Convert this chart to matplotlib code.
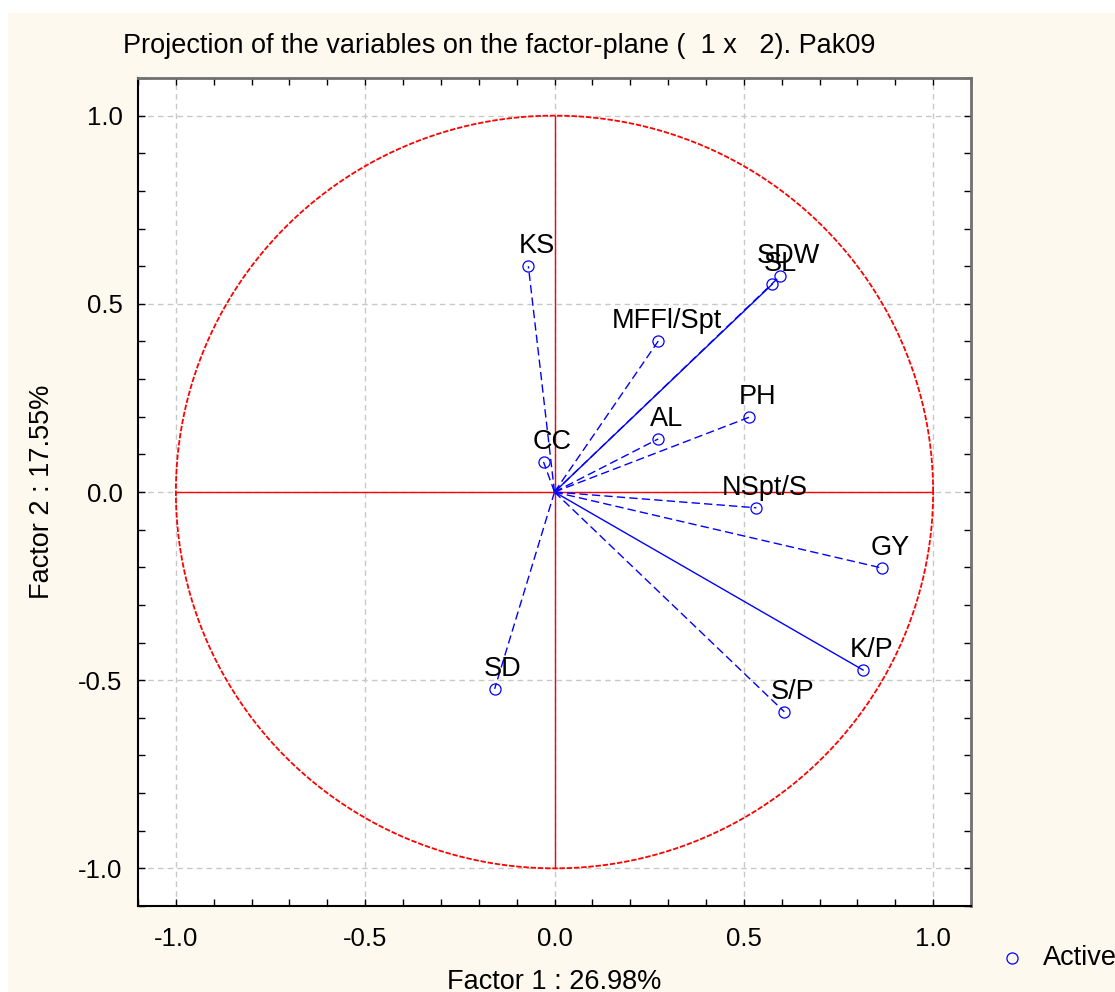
import matplotlib
matplotlib.use("Agg")
import matplotlib.pyplot as plt
import numpy as np
from matplotlib.patches import Rectangle
from matplotlib.lines import Line2D
from matplotlib.ticker import MultipleLocator

plt.rcParams['font.family'] = ['Liberation Sans', 'DejaVu Sans']

# factor loadings
variables = ['KS', 'SDW', 'SL', 'MFFl/Spt', 'PH', 'AL', 'CC',
             'NSpt/S', 'GY', 'K/P', 'S/P', 'SD']
factor1 = [-0.069, 0.596, 0.575, 0.274, 0.515, 0.274, -0.029,
           0.533, 0.865, 0.815, 0.607, -0.158]
factor2 = [0.600, 0.574, 0.552, 0.401, 0.199, 0.141, 0.080,
           -0.042, -0.202, -0.473, -0.584, -0.523]
solid_vars = ['SL', 'K/P']

cream = '#fef9ee'

fig = plt.figure(figsize=(11.15, 9.92), dpi=100, facecolor='white')
fig.patches.append(Rectangle((8 / 1115, 0), 1, 1 - 13 / 992, transform=fig.transFigure,
                             facecolor=cream, edgecolor='none', zorder=-10))

ax = fig.add_axes([138 / 1115, 1 - 906 / 992, (971 - 138) / 1115, (906 - 78) / 992])
ax.set_facecolor('white')
ax.set_xlim(-1.1, 1.1)
ax.set_ylim(-1.1, 1.1)

# unit circle and crosshair
t = np.linspace(0, 2 * np.pi, 720)
ax.plot(np.cos(t), np.sin(t), color='red', lw=1.3, ls=(0, (3, 1)), zorder=2)
ax.plot([0, 0], [-1, 1], color='red', lw=1, zorder=2)
ax.plot([-1, 1], [0, 0], color='red', lw=1, zorder=2)

for name, x, y in zip(variables, factor1, factor2):
    ls = '-' if name in solid_vars else (0, (6, 3))
    ax.plot([0, x], [0, y], color='blue', lw=1, ls=ls, zorder=3)
    ax.plot(x, y, 'o', mfc='none', mec='blue', ms=8, mew=0.9, zorder=4)
    ax.annotate(name, (x, y), xytext=(6, 5), textcoords='offset points',
                ha='center', va='bottom', fontsize=19.5, zorder=5)

ax.xaxis.set_minor_locator(MultipleLocator(0.1))
ax.yaxis.set_minor_locator(MultipleLocator(0.1))
ax.set_xticks([-1.0, -0.5, 0.0, 0.5, 1.0])
ax.set_yticks([-1.0, -0.5, 0.0, 0.5, 1.0])
ax.set_xticklabels(['-1.0', '-0.5', '0.0', '0.5', '1.0'])
ax.set_yticklabels(['-1.0', '-0.5', '0.0', '0.5', '1.0'])
ax.tick_params(which='both', direction='in', top=True, right=True, length=5, width=1)
ax.tick_params(axis='x', labelsize=18.5, pad=15)
ax.tick_params(axis='y', labelsize=18.5, pad=11)
ax.grid(True, which='major', color='#c8c8c8', ls=(0, (4, 3)), lw=1)
ax.set_axisbelow(True)

for side in ['left', 'bottom']:
    ax.spines[side].set_linewidth(1.5)
for side in ['top', 'right']:
    ax.spines[side].set_linewidth(2)
    ax.spines[side].set_color('#707070')

ax.set_xlabel('Factor 1 : 26.98%', fontsize=19.5, labelpad=13)
ax.set_ylabel('Factor 2 : 17.55%', fontsize=19.5, labelpad=17)

fig.text(123 / 1115, 1 - 46 / 992, 'Projection of the variables on the factor-plane (  1 x   2). Pak09',
         fontsize=19.5, ha='left', va='center')

# legend outside the plot
fig.add_artist(Line2D([1012 / 1115], [1 - 958 / 992], transform=fig.transFigure,
                      marker='o', mfc='none', mec='blue', ms=8, mew=0.9, ls='none'))
fig.text(1043 / 1115, 1 - 958 / 992, 'Active', fontsize=19.5, ha='left', va='center')

fig.savefig('out.png', dpi=100, facecolor=fig.get_facecolor())
